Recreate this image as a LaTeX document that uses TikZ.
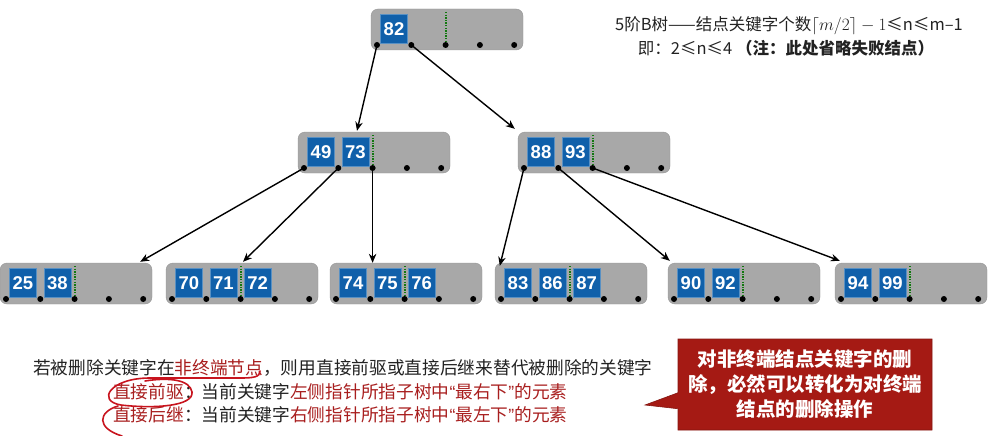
\documentclass[tikz,border=0pt]{standalone}
\usepackage{fontspec}
\setmainfont{Noto Sans CJK SC}
\newfontfamily\keyfont{Liberation Sans}
\newfontfamily\latinfont{Liberation Sans}
\usetikzlibrary{arrows.meta,calc,shapes.callouts}
\definecolor{nodegray}{HTML}{A8A8A8}
\definecolor{nodeedge}{HTML}{959595}
\definecolor{keyblue}{HTML}{1060AA}
\definecolor{divgreen}{HTML}{12780F}
\definecolor{dred}{HTML}{A81E1E}
\definecolor{pen}{HTML}{C8141E}
\definecolor{callred}{HTML}{A51A14}
\definecolor{txt}{HTML}{222222}
\newcommand\myopenq{{\latinfont “}}
\newcommand\mycloseq{{\latinfont ”}}
\tikzset{
  bbox/.style={draw=nodeedge, fill=nodegray, rounded corners=7pt, minimum width=152pt, minimum height=41pt, inner sep=0pt},
  keybox/.style={draw=keyblue!70!white, line width=0.6pt, fill=keyblue, text=white, minimum width=27pt, minimum height=29pt, inner sep=0pt, font=\keyfont\bfseries\fontsize{18.5}{20}\selectfont},
  mindiv/.style={divgreen, line width=2pt, dash pattern=on 1.4pt off 1.2pt},
  arr/.style={-{Stealth[length=9pt,width=7.5pt]}, line width=1.4pt, black},
  redpen/.style={pen, line width=1.6pt, line cap=round, line join=round},
  bodytext/.style={anchor=west, inner sep=0pt, text=txt, font=\fontsize{17.7}{20}\selectfont},
}
\newcommand\btnode[4]{%
  \node[bbox] (#1) at ({#2+76},{#3+20.5}) {};
  \foreach \i in {1,...,5}{%
    \coordinate (#1-\i) at ({#2+6+34.3*(\i-1)},{#3+36});
  }
  \foreach \k [count=\j] in {#4}{%
    \node[keybox] (#1-k\j) at ({#2+23+34.3*(\j-1)},{#3+20}) {\k};
  }
  \draw[mindiv] ({#2+74.6},{#3+3}) -- (#1-3);
  \foreach \i in {1,...,5}{\fill (#1-\i) circle (3);}
}
\begin{document}
\begin{tikzpicture}[x=1pt,y=-1pt]
\useasboundingbox (0,0) rectangle (996,436);
% tree nodes
\btnode{r}{371}{9}{82}
\btnode{m1}{298}{132}{49,73}
\btnode{m2}{518}{132}{88,93}
\btnode{l1}{0}{263}{25,38}
\btnode{l2}{166}{263}{70,71,72}
\btnode{l3}{330}{263}{74,75,76}
\btnode{l4}{495}{263}{83,86,87}
\btnode{l5}{668}{263}{90,92}
\btnode{l6}{835}{263}{94,99}
% pointers
\draw[arr] (r-1) -- ($(m1.north)+(-17,-1)$);
\draw[arr] (r-2) -- ($(m2.north west)+(-3,-3)$);
\draw[arr] (m1-1) -- ($(l1.north east)+(-12,-1)$);
\draw[arr] (m1-2) -- ($(l2.north)+(1,-1)$);
\draw[arr] (m1-3) -- (m1-3 |- l3.north);
\draw[arr] (m2-1) -- ($(l4.north west)+(5,3)$);
\draw[arr] (m2-2) -- ($(l5.north west)+(2,-2)$);
\draw[arr] (m2-3) -- ($(l6.north west)+(5,-2)$);
% top-right note
\node[inner sep=0pt, text=txt, font=\fontsize{16.5}{19}\selectfont] (t1) at (789,26) {5阶B树——结点关键字个数$\lceil m/2\rceil - 1$≤n≤m–1};
\node[inner sep=0pt, text=txt, font=\fontsize{16.5}{19}\selectfont] (t2) at (786,48) {即：2≤n≤4 \textbf{（注：此处省略失败结点）}};
% bottom text
\node[bodytext] (b1) at (33,368) {若被删除关键字在\textcolor{dred}{非终端节点}，则用直接前驱或直接后继来替代被删除的关键字};
\node[bodytext] (b2) at (113,392) {\textcolor{dred}{直接前驱}：当前关键字\textcolor{dred}{左侧指针所指子树中\myopenq 最右下\mycloseq 的元素}};
\node[bodytext] (b3) at (113,415) {\textcolor{dred}{直接后继}：当前关键字\textcolor{dred}{右侧指针所指子树中\myopenq 最左下\mycloseq 的元素}};
% hand-drawn marks
\draw[redpen] (260,371) .. controls (260,377) and (254,378) .. (240,378) -- (150,378) .. controls (110,378) and (96,401) .. (121,405) .. controls (155,409) and (194,406) .. (192,392) .. controls (190,380) and (170,377) .. (145,381);
\draw[redpen] (118,406) .. controls (98,412) and (96,428) .. (122,436);
% callout
\node[rectangle callout, callout absolute pointer={(645,405)}, callout pointer width=16pt,
  fill=callred, draw=callred!80!black, line width=0.6pt, minimum width=254pt, minimum height=91pt,
  text width=244pt, align=center, inner sep=0pt, text=white,
  font=\bfseries\fontsize{19.5}{25}\selectfont] (c) at (805,384.5)
  {对非终端结点关键字的删\\除，必然可以转化为对终端\\结点的删除操作};
\end{tikzpicture}
\end{document}
